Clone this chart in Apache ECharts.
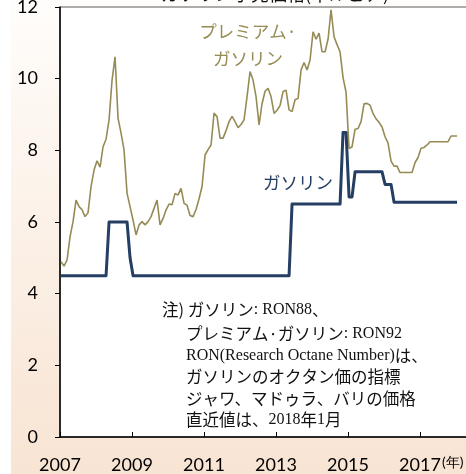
<!DOCTYPE html>
<html><head><meta charset="utf-8">
<script src="https://cdn.jsdelivr.net/npm/echarts@6/dist/echarts.min.js"></script>
<style>html,body{margin:0;padding:0;background:#fff}#c{width:466px;height:474px}</style>
</head><body><div id="c"></div>
<script>
// Monthly data, 2007-01 .. 2018-01 (千ルピア)
const startYear = 2007;
const premium = [
4.89,4.77,4.94,5.59,6.01,6.61,6.43,6.34,6.15,6.26,6.99,7.45,
7.71,7.53,8.10,8.31,8.85,9.96,10.61,8.89,8.48,8.01,6.80,6.43,
6.05,5.64,5.92,6.01,5.92,6.01,6.15,6.38,6.61,5.92,6.10,6.34,
6.50,6.48,6.80,6.75,6.94,6.52,6.47,6.18,6.15,6.35,6.65,6.99,
7.87,8.02,8.15,9.04,8.94,8.34,8.34,8.55,8.80,8.95,8.80,8.63,
8.72,8.85,9.50,10.20,9.96,9.50,8.71,9.30,9.65,9.73,9.50,9.03,
9.12,9.25,9.64,9.68,9.13,9.08,9.41,9.45,10.24,10.45,10.24,10.52,
11.31,11.10,11.27,10.75,10.75,11.10,11.92,11.17,10.95,10.75,10.03,9.62,
8.05,8.10,8.59,8.61,8.80,9.30,9.31,9.26,9.03,8.88,8.78,8.65,
8.38,8.20,7.70,7.56,7.56,7.38,7.38,7.38,7.38,7.38,7.66,7.80,
8.06,8.08,8.15,8.24,8.24,8.24,8.24,8.24,8.24,8.24,8.40,8.40,
8.40
];
const gasoline = [
4.5,4.5,4.5,4.5,4.5,4.5,4.5,4.5,4.5,4.5,4.5,4.5,
4.5,4.5,4.5,4.5,6.0,6.0,6.0,6.0,6.0,6.0,6.0,5.0,
4.5,4.5,4.5,4.5,4.5,4.5,4.5,4.5,4.5,4.5,4.5,4.5,
4.5,4.5,4.5,4.5,4.5,4.5,4.5,4.5,4.5,4.5,4.5,4.5,
4.5,4.5,4.5,4.5,4.5,4.5,4.5,4.5,4.5,4.5,4.5,4.5,
4.5,4.5,4.5,4.5,4.5,4.5,4.5,4.5,4.5,4.5,4.5,4.5,
4.5,4.5,4.5,4.5,4.5,6.5,6.5,6.5,6.5,6.5,6.5,6.5,
6.5,6.5,6.5,6.5,6.5,6.5,6.5,6.5,6.5,6.5,8.5,8.5,
6.7,6.7,7.4,7.4,7.4,7.4,7.4,7.4,7.4,7.4,7.4,7.4,
7.05,7.05,7.05,6.55,6.55,6.55,6.55,6.55,6.55,6.55,6.55,6.55,
6.55,6.55,6.55,6.55,6.55,6.55,6.55,6.55,6.55,6.55,6.55,6.55,
6.55
];
const yearTicks = [2007, 2009, 2011, 2013, 2015, 2017, 2019];
const valueTicks = [0, 2, 4, 6, 8, 10, 12];
const titleText = 'ガソリン小売価格(千ルピア)';
const premiumLabel = 'プレミアム·\nガソリン';
const gasolineLabel = 'ガソリン';
const unitLabel = '(年)';

function toPairs(arr){ return arr.map((v,i)=>[startYear + (i + 0.35)/12, v]); }

const OLIVE = '#968b55', NAVY = '#243f63';
const JP = 'Noto Sans CJK JP', SERIF = 'Liberation Serif', NUM = 'Lato';
const noteRich = {
  j: {fontFamily: JP, fontSize: 16.5, fill: '#111'},
  r: {fontFamily: SERIF, fontSize: 16, fill: '#111'}
};
function note(x, y, text){
  return {type:'text', z:100, x:x, y:y, style:{text:text, rich:noteRich, verticalAlign:'middle', align:'left'}};
}

const chart = echarts.init(document.getElementById('c'), null, {renderer:'canvas'});
chart.setOption({
  animation:false,
  backgroundColor:'#ffffff',
  grid:{left:60, top:7, width:432, height:430, show:true, containLabel:false, outerBoundsMode:'none',
    backgroundColor:'#ffffff', borderColor:'#5a5a5a', borderWidth:1},
  xAxis:{type:'value', min:yearTicks[0], max:yearTicks[yearTicks.length-1], interval:2,
    axisLine:{show:true, onZero:false, lineStyle:{color:'#000', width:1.5}},
    axisTick:{show:true, inside:true, length:5, lineStyle:{color:'#000'}},
    splitLine:{show:false},
    axisLabel:{margin:19, fontFamily:NUM, fontSize:18, color:'#000', formatter:v=>String(v)}
  },
  yAxis:{type:'value', min:valueTicks[0], max:valueTicks[valueTicks.length-1], interval:2,
    axisLine:{show:true, lineStyle:{color:'#000', width:1.5}},
    axisTick:{show:true, inside:false, length:5, lineStyle:{color:'#000'}},
    splitLine:{show:false},
    axisLabel:{margin:22, fontFamily:NUM, fontSize:18, color:'#000', formatter:v=>String(v)}
  },
  series:[
    {name:'プレミアム・ガソリン', type:'line', data:toPairs(premium), showSymbol:false, symbol:'none',
      lineStyle:{color:OLIVE, width:1.6}, z:3},
    {name:'ガソリン', type:'line', data:toPairs(gasoline), showSymbol:false, symbol:'none',
      lineStyle:{color:NAVY, width:3, join:'round'}, z:4}
  ],
  graphic:[
    {type:'rect', z:-100, shape:{x:11, y:0, width:455, height:474},
      style:{fill:new echarts.graphic.LinearGradient(0,0,0,1,[{offset:0,color:'#fffdfb'},{offset:1,color:'#f8e4d3'}])}},
    {type:'text', z:100, x:275, y:-6, style:{text:titleText, fontFamily:JP, fontSize:18, fill:'#111', align:'center', verticalAlign:'middle'}},
    {type:'text', z:100, x:248, y:45, style:{text:premiumLabel, fontFamily:JP, fontSize:17.5, lineHeight:27, fill:OLIVE, align:'center', verticalAlign:'middle'}},
    {type:'text', z:100, x:298, y:182, style:{text:gasolineLabel, fontFamily:JP, fontSize:17.5, fill:NAVY, align:'center', verticalAlign:'middle'}},
    {type:'text', z:100, x:442, y:462, style:{text:unitLabel, fontFamily:NUM, fontSize:14, fill:'#000', align:'left', verticalAlign:'middle'}},
    note(162, 310, '{j|注) ガソリン}{r|: RON88}{j|、}'),
    note(186, 334, '{j|プレミアム·ガソリン}{r|: RON92}'),
    note(186, 356, '{r|RON(Research Octane Number)}{j|は、}'),
    note(186, 377, '{j|ガソリンのオクタン価の指標}'),
    note(186, 398.5, '{j|ジャワ、マドゥラ、バリの価格}'),
    note(186, 420, '{j|直近値は、}{r|2018}{j|年}{r|1}{j|月}')
  ]
});
</script></body></html>
